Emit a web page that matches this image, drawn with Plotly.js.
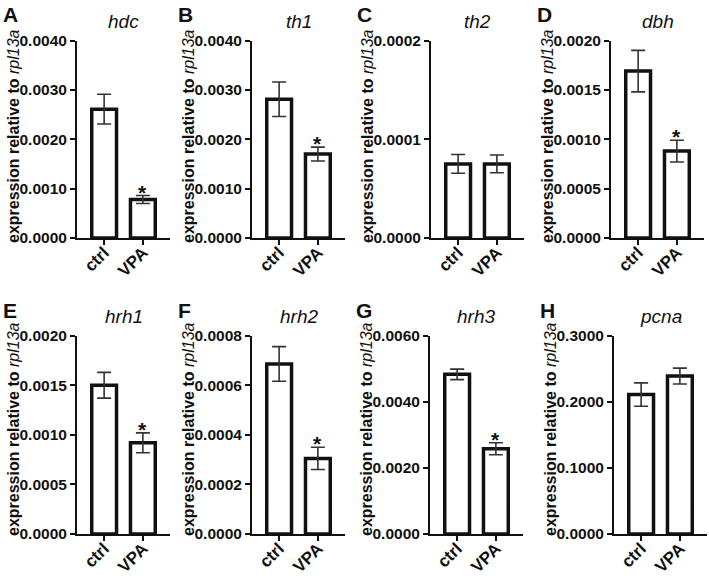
<!DOCTYPE html>
<html>
<head>
<meta charset="utf-8">
<script src="https://cdn.plot.ly/plotly-3.0.1.min.js"></script>
<style>html,body{margin:0;padding:0;background:#fff;}#chart{width:709px;height:578px;}</style>
</head>
<body>
<div id="chart"></div>
<script>
const categories = ['ctrl', 'VPA'];
const genes = ['hdc', 'th1', 'th2', 'dbh', 'hrh1', 'hrh2', 'hrh3', 'pcna'];
const panelLetters = ['A', 'B', 'C', 'D', 'E', 'F', 'G', 'H'];
const ctrlMean = [0.00261, 0.00281, 0.000075, 0.00169, 0.00150, 0.000686, 0.00483, 0.211];
const ctrlErr  = [0.00030, 0.00035, 0.0000095, 0.00021, 0.00013, 0.000070, 0.00016, 0.0177];
const vpaMean  = [0.00078, 0.00170, 0.000075, 0.00088, 0.00092, 0.000305, 0.00258, 0.239];
const vpaErr   = [0.00008, 0.00014, 0.0000090, 0.00011, 0.00010, 0.000045, 0.00018, 0.012];
const yMax     = [0.004, 0.004, 0.0002, 0.002, 0.002, 0.0008, 0.006, 0.3];
const yDtick   = [0.001, 0.001, 0.0001, 0.0005, 0.0005, 0.0002, 0.002, 0.1];
const significant = [true, true, false, true, true, true, true, false];
const yTitleText = '<b>expression relative to </b><i>rpl13a</i>';

const W = 709, H = 578;
const FONT = 'Liberation Sans, Arial, Helvetica, sans-serif';
const fx = p => p / W;
const fy = p => 1 - p / H;

// pixel layout of each panel (axis left edge, axis width)
const axLeft  = [77, 252, 431, 611, 77, 252, 430, 614];
const axWidth = 93;
const rowTop = [40.5, 335.7];
const rowBottom = [238, 534];
const yTitleCenter = [136, 429];

const data = [];
const layout = {
  width: W, height: H,
  margin: {l: 0, r: 0, t: 0, b: 0},
  paper_bgcolor: '#fff', plot_bgcolor: '#fff',
  showlegend: false,
  font: {family: FONT, color: '#111'},
  annotations: []
};

for (let i = 0; i < 8; i++) {
  const row = i < 4 ? 0 : 1;
  const n = i + 1;
  const xa = 'x' + (n === 1 ? '' : n);
  const ya = 'y' + (n === 1 ? '' : n);
  data.push({
    type: 'bar',
    x: categories,
    y: [ctrlMean[i], vpaMean[i]],
    xaxis: xa, yaxis: ya,
    width: 0.64,
    marker: {color: '#ffffff', line: {color: '#111', width: 3.5}},
    error_y: {type: 'data', array: [ctrlErr[i], vpaErr[i]], visible: true,
              color: '#333', thickness: 1.6, width: 7},
    hoverinfo: 'skip'
  });
  const xKey = 'xaxis' + (n === 1 ? '' : n);
  const yKey = 'yaxis' + (n === 1 ? '' : n);
  const x0 = fx(axLeft[i]), x1 = fx(axLeft[i] + axWidth);
  layout[xKey] = {
    domain: [x0, x1], anchor: ya, type: 'category',
    range: [-0.7, 1.7], fixedrange: true,
    showline: true, linecolor: '#111', linewidth: 2,
    ticks: 'outside', ticklen: 5, tickwidth: 2, tickcolor: '#111',
    tickangle: -45, showgrid: false, zeroline: false,
    ticklabelstandoff: -9,
    tickfont: {family: FONT, size: 17, weight: 'bold', color: '#111'}
  };
  layout[yKey] = {
    domain: [fy(rowBottom[row]), fy(rowTop[row])], anchor: xa,
    range: [0, yMax[i]], dtick: yDtick[i], tick0: 0, tickformat: '.4f',
    fixedrange: true,
    showline: true, linecolor: '#111', linewidth: 2,
    ticks: 'outside', ticklen: 5, tickwidth: 2, tickcolor: '#111',
    showgrid: false, zeroline: false,
    tickfont: {family: FONT, size: 15.5, weight: 'bold', color: '#111'}
  };
  // panel letter
  layout.annotations.push({
    xref: 'paper', yref: 'paper', x: fx(axLeft[i] - 76), y: fy(rowTop[row] - 39),
    xanchor: 'left', yanchor: 'top', showarrow: false,
    text: '<b>' + panelLetters[i] + '</b>',
    font: {family: FONT, size: 21, color: '#111'}
  });
  // gene title
  layout.annotations.push({
    xref: 'paper', yref: 'paper', x: fx(axLeft[i] + axWidth / 2), y: fy(rowTop[row] - 19),
    xanchor: 'center', yanchor: 'middle', showarrow: false,
    text: '<i>' + genes[i] + '</i>',
    font: {family: FONT, size: 19, color: '#111'}
  });
  // y axis title
  layout.annotations.push({
    xref: 'paper', yref: 'paper', x: fx(axLeft[i] - 64), y: fy(yTitleCenter[row]),
    xanchor: 'center', yanchor: 'middle', showarrow: false, textangle: -90,
    text: yTitleText,
    font: {family: FONT, size: 16, color: '#111'}
  });
  // significance marker
  if (significant[i]) {
    layout.annotations.push({
      xref: xa, yref: ya, x: categories[1], y: vpaMean[i] + vpaErr[i],
      xanchor: 'center', yanchor: 'bottom', showarrow: false, yshift: -10,
      text: '<b>*</b>',
      font: {family: FONT, size: 21, color: '#111'}
    });
  }
}

Plotly.newPlot('chart', data, layout, {staticPlot: true, displayModeBar: false});
</script>
</body>
</html>
